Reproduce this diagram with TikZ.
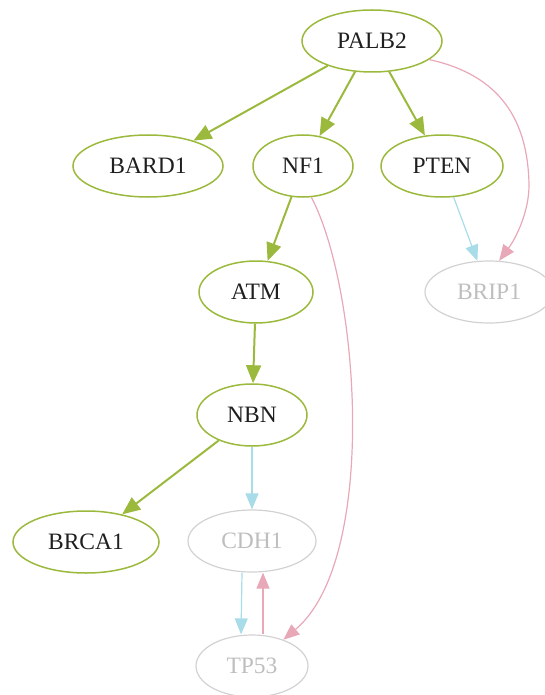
\documentclass[tikz,border=0pt]{standalone}
\usepackage{fontspec}
\setmainfont{Liberation Serif}
\usetikzlibrary{shapes.geometric,arrows.meta}
\definecolor{leaf}{RGB}{155,185,60}
\definecolor{rose}{RGB}{232,168,184}
\definecolor{sky}{RGB}{168,220,232}
\definecolor{mist}{RGB}{210,210,210}
\definecolor{misttext}{RGB}{190,190,190}
\tikzset{
  gene/.style={ellipse, draw=leaf, line width=1.5pt, inner sep=0pt,
    minimum height=62pt, font=\fontsize{23.5}{26}\selectfont, text=black!88},
  faded/.style={gene, draw=mist, line width=1.2pt, text=misttext},
  link/.style={draw=leaf, line width=2pt, -{Triangle[length=18pt,width=15pt]}},
  thinlink/.style={line width=1.2pt, -{Triangle[length=16pt,width=13pt]}},
  pinklink/.style={thinlink, draw=rose},
  bluelink/.style={thinlink, draw=sky},
}
\begin{document}
\begin{tikzpicture}[x=1pt,y=-1pt]
\useasboundingbox (0,0) rectangle (545,695);
\begin{scope}
\clip (0,0) rectangle (545,695);
% gene nodes
\node[gene, minimum width=140pt] (PALB2) at (372,41) {PALB2};
\node[gene, minimum width=150pt] (BARD1) at (148,166) {BARD1};
\node[gene, minimum width=100pt] (NF1) at (303,166) {NF1};
\node[gene, minimum width=122pt] (PTEN) at (442,166) {PTEN};
\node[gene, minimum width=114pt] (ATM) at (256,292) {ATM};
\node[faded, minimum width=128pt] (BRIP1) at (489,292) {BRIP1};
\node[gene, minimum width=110pt] (NBN) at (252,415) {NBN};
\node[gene, minimum width=146pt] (BRCA1) at (86,542) {BRCA1};
\node[faded, minimum width=128pt] (CDH1) at (252,541) {CDH1};
\node[faded, minimum width=112pt] (TP53) at (252,666) {TP53};

% primary edges
\draw[link] (PALB2) -- (BARD1);
\draw[link] (PALB2) -- (NF1);
\draw[link] (PALB2) -- (PTEN);
\draw[link] (NF1) -- (ATM);
\draw[link] (ATM) -- (NBN);
\draw[link] (NBN) -- (BRCA1);

% secondary edges
\draw[bluelink] (PTEN) -- (BRIP1);
\draw[bluelink] (NBN) -- (CDH1);
\draw[bluelink] ([xshift=-10pt]CDH1.south) -- ([xshift=-11pt]TP53.north);
\draw[pinklink] ([xshift=11pt]TP53.north) -- ([xshift=11pt]CDH1.south);
\draw[pinklink] (PALB2.-18) .. controls (500,75) and (528,120) .. (529,185)
  .. controls (529,212) and (516,238) .. (BRIP1.72);
\draw[pinklink] (NF1.-75) .. controls (360,290) and (378,560) .. (TP53.40);
\end{scope}
\end{tikzpicture}
\end{document}
